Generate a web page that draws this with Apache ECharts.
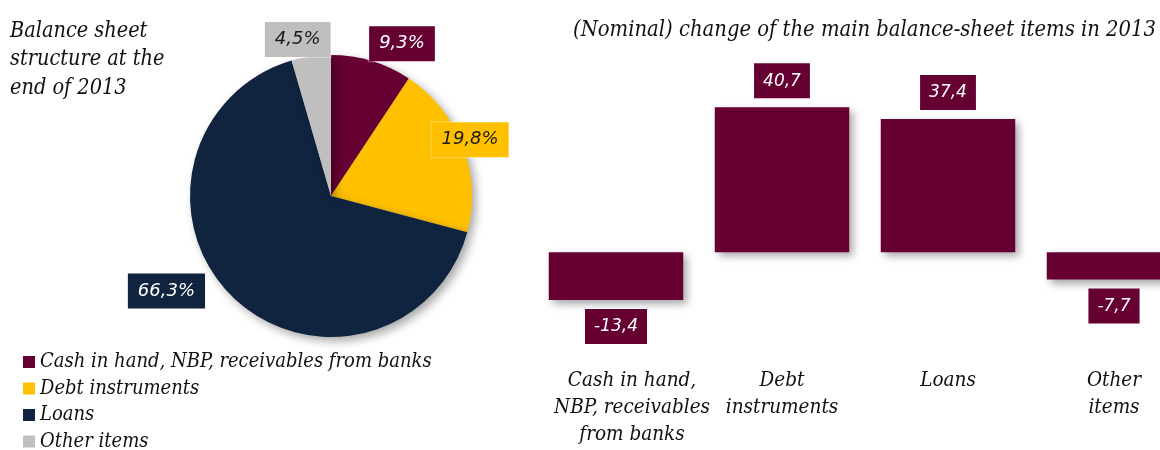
<!DOCTYPE html>
<html>
<head>
<meta charset="utf-8">
<script src="https://cdn.jsdelivr.net/npm/echarts@6/dist/echarts.min.js"></script>
<style>
  html, body { margin: 0; padding: 0; background: #ffffff; }
  #chart { width: 1160px; height: 450px; }
</style>
</head>
<body>
<div id="chart"></div>
<script>
// Balance sheet structure (shares, %) and nominal change of items in 2013
const itemNames = ['Cash in hand, NBP, receivables from banks', 'Debt instruments', 'Loans', 'Other items'];
const barCategories = ['Cash in hand,\nNBP, receivables\nfrom banks', 'Debt\ninstruments', 'Loans', 'Other\nitems'];
const structureShares = [9.3, 19.8, 66.3, 4.5];
const nominalChange = [-13.4, 40.7, 37.4, -7.7];

const colors = ['#660033', '#FFC000', '#10243F', '#BFBFBF'];
const pieLabelText = ['#ffffff', '#1a1a1a', '#ffffff', '#1a1a1a'];
const MAROON = '#660033';

const serif = '"DejaVu Serif Condensed", "DejaVu Serif", serif';
const sans = '"DejaVu Sans", Verdana, sans-serif';

const fmt = v => String(v).replace('.', ',');

// label anchors for the pie, as polar offsets from the pie centre (degrees from 12 o'clock, px)
const pieCenter = [331, 196];
const pieLabelPolar = [[25, 168], [68, 150], [240, 190], [-12, 160]];
// horizontal nudges for the category labels (left padding, px)
const categoryLabelNudge = [32, 0, 0, 0];

const chart = echarts.init(document.getElementById('chart'));

chart.setOption({
  animation: false,
  color: colors,
  title: [
    {
      text: 'Balance sheet\nstructure at the\nend of 2013',
      left: 5, top: 12,
      textStyle: { fontFamily: serif, fontStyle: 'italic', fontWeight: 'normal', fontSize: 21.5, lineHeight: 28.5, color: '#111' }
    },
    {
      text: '(Nominal) change of the main balance-sheet items in 2013',
      left: 568, top: 14,
      textStyle: { fontFamily: serif, fontStyle: 'italic', fontWeight: 'normal', fontSize: 21.8, color: '#111' }
    }
  ],
  legend: {
    data: itemNames,
    orient: 'vertical',
    left: 18, top: 347, height: 104,
    itemWidth: 12, itemHeight: 12, itemGap: 6.5,
    icon: 'rect',
    textStyle: { fontFamily: serif, fontStyle: 'italic', fontSize: 20, lineHeight: 20, color: '#111' }
  },
  // the last category runs past the right edge of the canvas
  grid: { left: 533, width: 664, top: 92, bottom: 91, containLabel: false, outerBoundsMode: 'none' },
  xAxis: {
    type: 'category',
    data: barCategories.map((c, i) => ({
      value: c,
      textStyle: { padding: [0, 0, 0, categoryLabelNudge[i]] }
    })),
    axisLine: { show: false },
    axisTick: { show: false },
    axisLabel: {
      interval: 0, margin: 8,
      fontFamily: serif, fontStyle: 'italic', fontSize: 20.5, lineHeight: 27, color: '#111',
      verticalAlign: 'top'
    }
  },
  yAxis: {
    type: 'value', min: -30, max: 45,
    show: false,
    splitLine: { show: false }
  },
  series: [
    {
      type: 'pie',
      center: pieCenter,
      radius: 141,
      startAngle: 90,
      data: itemNames.map((n, i) => ({
        name: n,
        value: structureShares[i],
        label: { color: pieLabelText[i], backgroundColor: colors[i] }
      })),
      itemStyle: {
        shadowBlur: 10, shadowOffsetX: 4, shadowOffsetY: 4, shadowColor: 'rgba(0,0,0,0.35)'
      },
      label: {
        show: true,
        position: 'outside',
        formatter: p => fmt(structureShares[p.dataIndex]) + '%',
        fontFamily: sans, fontStyle: 'italic', fontSize: 18, lineHeight: 20,
        padding: [8, 10, 7, 10],
        borderColor: 'rgba(255,255,255,0.35)', borderWidth: 1
      },
      labelLine: { show: false },
      labelLayout: p => {
        const [deg, dist] = pieLabelPolar[p.dataIndex];
        const a = deg * Math.PI / 180;
        return {
          x: pieCenter[0] + dist * Math.sin(a),
          y: pieCenter[1] - dist * Math.cos(a),
          align: 'center', verticalAlign: 'middle'
        };
      },
      emphasis: { disabled: true }
    },
    {
      type: 'bar',
      barCategoryGap: '19%',
      data: nominalChange.map(v => ({
        value: v,
        label: { position: v >= 0 ? 'top' : 'bottom' }
      })),
      itemStyle: {
        color: MAROON,
        shadowBlur: 8, shadowOffsetX: 4, shadowOffsetY: 4, shadowColor: 'rgba(0,0,0,0.35)'
      },
      label: {
        show: true,
        distance: 9,
        formatter: p => fmt(p.value),
        fontFamily: sans, fontStyle: 'italic', fontSize: 17, lineHeight: 18, color: '#ffffff',
        backgroundColor: MAROON,
        padding: [9, 9, 8, 9],
        borderColor: 'rgba(255,255,255,0.35)', borderWidth: 1
      },
      emphasis: { disabled: true }
    }
  ]
});
</script>
</body>
</html>
